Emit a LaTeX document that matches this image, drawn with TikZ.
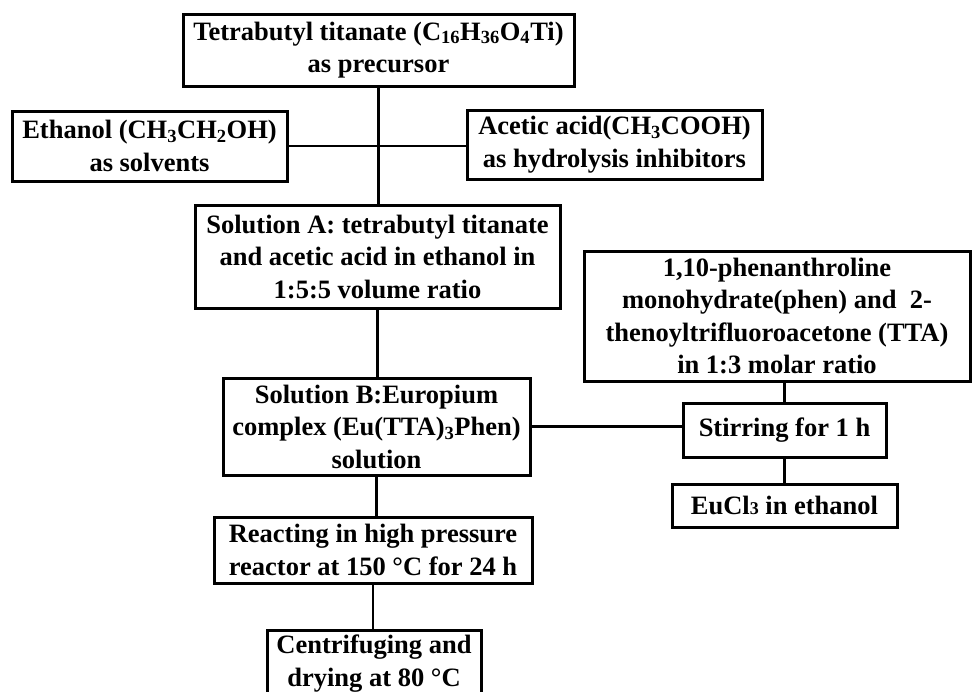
\documentclass[tikz,border=0pt]{standalone}
\usepackage{fontspec}
\setmainfont{Liberation Serif}
\usepackage{tikz}

\tikzset{
  stage/.style={draw, line width=3pt, align=center, inner sep=0pt,
    font=\bfseries\fontsize{26.5}{32.5}\selectfont},
  link/.style={line width=2.5pt}
}

\begin{document}
\begin{tikzpicture}[x=1pt, y=-1pt]
  \useasboundingbox (0,0) rectangle (972,691);

  \node[stage, minimum width=391pt, minimum height=72pt] (prec) at (378.5,50)
    {Tetrabutyl titanate (C\textsubscript{16}H\textsubscript{36}O\textsubscript{4}Ti)\\as precursor};
  \node[stage, minimum width=275pt, minimum height=70pt] (ethanol) at (149.5,146)
    {Ethanol (CH\textsubscript{3}CH\textsubscript{2}OH)\\as solvents};
  \node[stage, minimum width=295pt, minimum height=69pt] (acetic) at (614.5,144.5)
    {Acetic acid(CH\textsubscript{3}COOH)\\as hydrolysis inhibitors};
  \node[stage, minimum width=365pt, minimum height=103pt] (solA) at (377.5,256.5)
    {Solution A: tetrabutyl titanate\\and acetic acid in ethanol in\\1:5:5 volume ratio};
  \node[stage, minimum width=386pt, minimum height=130pt] (phen) at (777,316)
    {1,10-phenanthroline\\monohydrate(phen) and \ 2-\\thenoyltrifluoroacetone (TTA)\\in 1:3 molar ratio};
  \node[stage, minimum width=307pt, minimum height=97pt] (solB) at (376.5,426.5)
    {Solution B:Europium\\complex (Eu(TTA)\textsubscript{3}Phen)\\solution};
  \node[stage, minimum width=203pt, minimum height=54pt] (stir) at (784.5,430)
    {Stirring for 1 h};
  \node[stage, minimum width=225pt, minimum height=43pt] (eucl) at (784.5,505.5)
    {EuCl{\fontsize{18}{18}\selectfont 3} in ethanol};
  \node[stage, minimum width=318pt, minimum height=66pt] (react) at (373,550)
    {Reacting in high pressure\\reactor at 150 °C for 24 h};
  \node[stage, minimum width=214pt, minimum height=72pt, text depth=12pt,
    anchor=north] (centri) at (374,629)
    {Centrifuging and\\drying at 80 °C};

  \draw[link] (prec.south) -- (prec.south |- solA.north);
  \draw[link] (ethanol.east) -- (ethanol.east -| acetic.west);
  \draw[link] (solA.south) -- (solA.south |- solB.north);
  \draw[link] (solB.east) -- (solB.east -| stir.west);
  \draw[link] (phen.south -| stir.north) -- (stir.north);
  \draw[link] (stir.south) -- (eucl.north);
  \draw[link] (solB.south) -- (solB.south |- react.north);
  \draw[link] (react.south) -- (react.south |- centri.north);
\end{tikzpicture}
\end{document}
